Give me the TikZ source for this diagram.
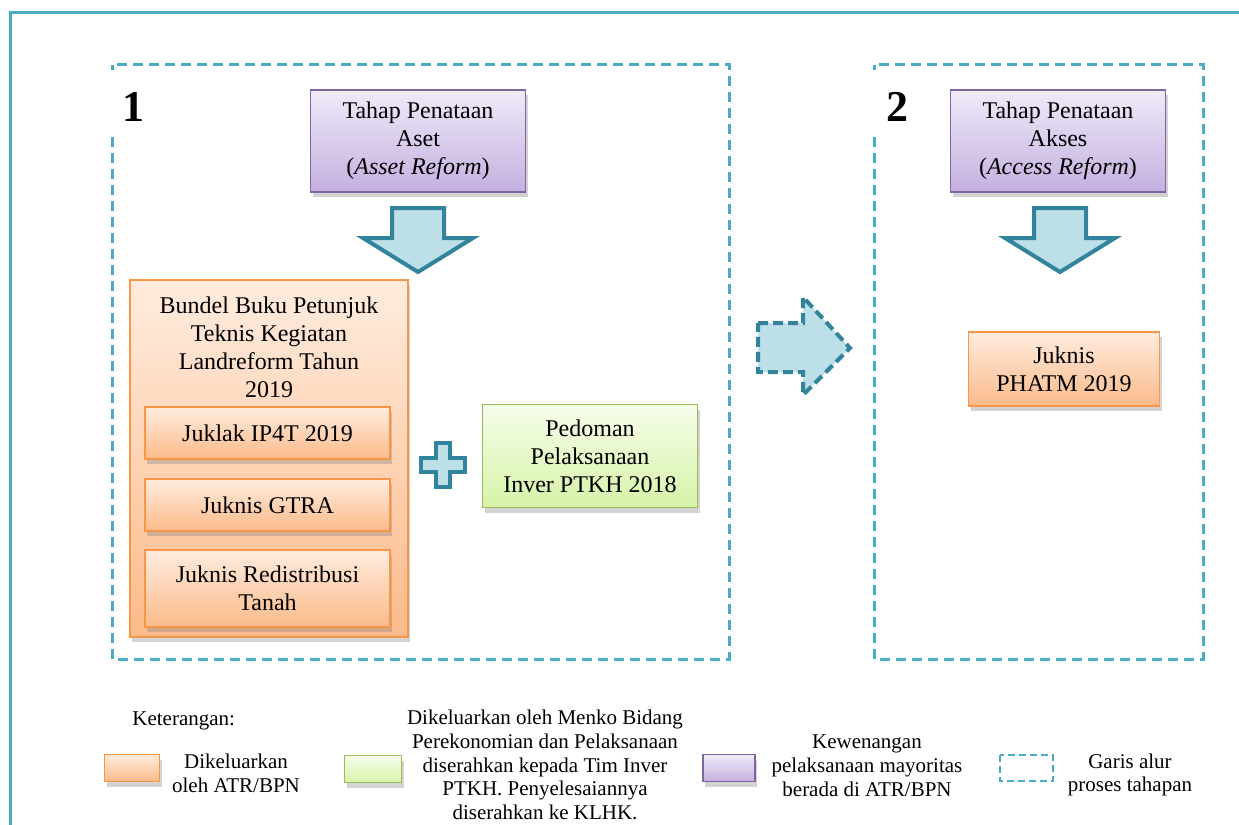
\documentclass[tikz,border=0pt]{standalone}
\usepackage{fontspec}
\setmainfont{Liberation Serif}
\usetikzlibrary{shadows}
\definecolor{garis}{RGB}{75,172,198}
\definecolor{panahtepi}{RGB}{49,132,155}
\definecolor{panahisi}{RGB}{188,223,232}
\definecolor{ungu}{RGB}{128,100,162}
\definecolor{unguatas}{RGB}{239,234,248}
\definecolor{ungubawah}{RGB}{196,176,224}
\definecolor{oranye}{RGB}{247,150,70}
\definecolor{oranyeatas}{RGB}{255,236,222}
\definecolor{oranyebawah}{RGB}{251,186,138}
\definecolor{hijau}{RGB}{155,187,89}
\definecolor{hijauatas}{RGB}{245,253,234}
\definecolor{hijaubawah}{RGB}{214,243,168}

\begin{document}
\begin{tikzpicture}[x=0.5pt,y=-0.5pt,
		every node/.style={font=\fontsize{12}{14}\selectfont,align=center,inner sep=0pt},
		kotak/.style={draw,line width=0.9pt,drop shadow={shadow xshift=1pt,shadow yshift=-2.5pt,opacity=0.35}},
		tahap/.style={kotak,draw=ungu,top color=unguatas,bottom color=ungubawah,minimum width=107.5pt,minimum height=51pt},
		juknis/.style={kotak,draw=oranye,top color=oranyeatas,bottom color=oranyebawah},
		pedoman/.style={kotak,draw=hijau,top color=hijauatas,bottom color=hijaubawah},
		alur/.style={draw=garis,line width=1.5pt,dash pattern=on 5pt off 3pt},
		panah/.style={draw=panahtepi,fill=panahisi,line width=2pt},
		nomor/.style={font=\fontsize{22}{26}\selectfont\bfseries},
		ket/.style={font=\fontsize{10.5}{11.9}\selectfont}]
	\useasboundingbox (0,0) rectangle (1239,825);
	\draw[garis,line width=1.5pt] (10,840) -- (10,12) -- (1250,12);

	\draw[alur] (112,137) -- (112,659) -- (729,659) -- (729,64) -- (112,64) -- (112,70);
	\node[nomor] (satu) at (133,107) {1};
	\node[tahap] (aset) at (418,141) {Tahap Penataan\\Aset\\(\textit{Asset Reform})};
	\draw[panah] (392,208) -- (444,208) -- (444,238) -- (473,238) -- (418,272) -- (363,238) -- (392,238) -- cycle;
	\node[juknis,minimum width=139pt,minimum height=178.5pt] (bundel) at (269,458.5) {};
	\node (bundeljudul) at (269,347) {Bundel Buku Petunjuk\\Teknis Kegiatan\\Landreform Tahun\\2019};
	\node[juknis,minimum width=122.5pt,minimum height=26pt] (juklak) at (267.5,433) {Juklak IP4T 2019};
	\node[juknis,minimum width=122.5pt,minimum height=26pt] (gtra) at (267.5,505) {Juknis GTRA};
	\node[juknis,minimum width=122.5pt,minimum height=38.5pt] (redis) at (267.5,588.5) {Juknis Redistribusi\\Tanah};
	\draw[panah,line width=1.8pt] (436,443) -- (450,443) -- (450,458) -- (465,458) -- (465,472) -- (450,472) -- (450,487)
		-- (436,487) -- (436,472) -- (421,472) -- (421,458) -- (436,458) -- cycle;
	\node[pedoman,minimum width=107.5pt,minimum height=51.5pt] (inver) at (590,456) {Pedoman\\Pelaksanaan\\Inver PTKH 2018};

	\draw[panah,dash pattern=on 5pt off 2.5pt] (758,323) -- (803,323) -- (803,297) -- (850,348) -- (803,395) -- (803,372) -- (758,372) -- cycle;

	\draw[alur] (874,137) -- (874,659) -- (1203,659) -- (1203,64) -- (874,64) -- (874,70);
	\node[nomor] (dua) at (897,107) {2};
	\node[tahap] (akses) at (1058,141) {Tahap Penataan\\Akses\\(\textit{Access Reform})};
	\draw[panah] (1034,208) -- (1086,208) -- (1086,238) -- (1115,238) -- (1060,272) -- (1005,238) -- (1034,238) -- cycle;
	\node[juknis,minimum width=95.5pt,minimum height=37pt] (phatm) at (1064,369) {Juknis\\PHATM 2019};

	\node[ket,anchor=base west] (keterangan) at (132,725) {Keterangan:};
	\node[juknis,minimum width=27.5pt,minimum height=13.5pt] (legoranye) at (132,768) {};
	\node[ket] (teksoranye) at (236,773) {Dikeluarkan\\oleh ATR/BPN};
	\node[pedoman,minimum width=28.5pt,minimum height=13.5pt] (leghijau) at (373,769) {};
	\node[ket] (tekshijau) at (545,765) {Dikeluarkan oleh Menko Bidang\\Perekonomian dan Pelaksanaan\\diserahkan kepada Tim Inver\\PTKH. Penyelesaiannya\\diserahkan ke KLHK.};
	\node[tahap,minimum width=26pt,minimum height=13.5pt] (legungu) at (729,768) {};
	\node[ket] (teksungu) at (867,766) {Kewenangan\\pelaksanaan mayoritas\\berada di ATR/BPN};
	\draw[alur,line width=1.2pt,dash pattern=on 3.5pt off 2pt] (1000,755) rectangle (1053,781);
	\node[ket] (teksalur) at (1130,775) {Garis alur\\proses tahapan};
\end{tikzpicture}
\end{document}
